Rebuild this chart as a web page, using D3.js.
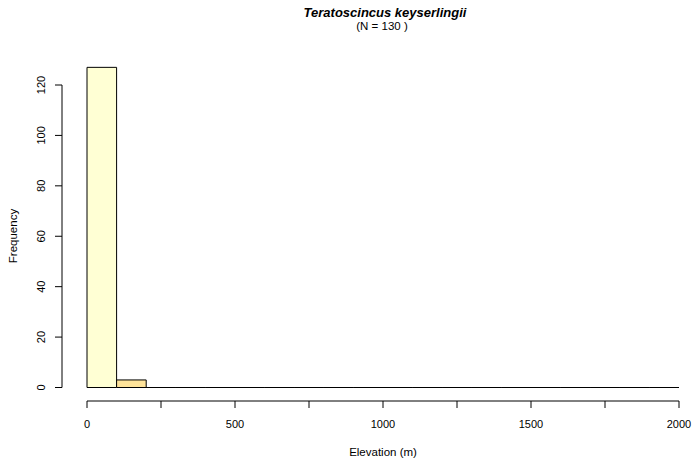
<!DOCTYPE html>
<html><head><meta charset="utf-8">
<script src="https://cdn.jsdelivr.net/npm/d3@7"></script>
<style>body{margin:0;background:#fff}svg{display:block}text{font-family:"Liberation Sans",Arial,sans-serif;fill:#000}</style>
</head><body>
<svg id="c" width="693" height="462"></svg>
<script>
const binStarts = [0,100,200,300,400,500,600,700,800,900,1000,1100,1200,1300,1400,1500,1600,1700,1800,1900];
const counts = [127,3,0,0,0,0,0,0,0,0,0,0,0,0,0,0,0,0,0,0];
const binColors = ["#FFFFD4","#FEE39A","#FEC44F","#FE9929","#EC7014","#CC4C02","#993404","#662506","#662506","#662506","#662506","#662506","#662506","#662506","#662506","#662506","#662506","#662506","#662506","#662506"];
const xTicks = [0,250,500,750,1000,1250,1500,1750,2000];
const xLabels = [0,500,1000,1500,2000];
const yTicks = [0,20,40,60,80,100,120];
const binWidth = 100;

const svg = d3.select("#c");
const x = d3.scaleLinear().domain([0,2000]).range([87,679]);
const y = d3.scaleLinear().domain([0,120]).range([387.5,85]);

svg.selectAll("path.bar").data(counts).enter().append("path")
  .attr("d",(d,i)=>{
    const x0=x(binStarts[i]), x1=x(binStarts[i]+binWidth), y0=y(0), y1=y(d);
    return `M${x0},${y0}L${x0},${y1}L${x1},${y1}L${x1},${y0}Z`;
  })
  .attr("fill",(d,i)=>binColors[i])
  .attr("stroke","#000").attr("stroke-width",1);

// x axis
const xa = svg.append("g");
xa.append("line").attr("x1",x(0)).attr("x2",x(2000)).attr("y1",401).attr("y2",401).attr("stroke","#000");
xa.selectAll("line.t").data(xTicks).enter().append("line")
  .attr("x1",d=>x(d)).attr("x2",d=>x(d)).attr("y1",401).attr("y2",408).attr("stroke","#000");
xa.selectAll("text").data(xLabels).enter().append("text")
  .attr("x",d=>x(d)).attr("y",428).attr("text-anchor","middle").attr("font-size",11).text(d=>d);

// y axis
const ya = svg.append("g");
ya.append("line").attr("x1",62).attr("x2",62).attr("y1",y(0)).attr("y2",y(120)).attr("stroke","#000");
ya.selectAll("line.t").data(yTicks).enter().append("line")
  .attr("x1",55).attr("x2",62).attr("y1",d=>y(d)).attr("y2",d=>y(d)).attr("stroke","#000");
ya.selectAll("text").data(yTicks).enter().append("text")
  .attr("transform",d=>`translate(45,${y(d)}) rotate(-90)`)
  .attr("text-anchor","middle").attr("font-size",11).text(d=>d);

svg.append("text").attr("transform","translate(17,236) rotate(-90)").attr("text-anchor","middle").attr("font-size",11.5).text("Frequency");
svg.append("text").attr("x",383).attr("y",456).attr("text-anchor","middle").attr("font-size",11.5).text("Elevation (m)");
svg.append("text").attr("x",385).attr("y",17).attr("text-anchor","middle").attr("font-size",13).attr("font-weight","bold").attr("font-style","italic").text("Teratoscincus keyserlingii");
svg.append("text").attr("x",382).attr("y",30).attr("text-anchor","middle").attr("font-size",11.5).text("(N = 130 )");
</script>
</body></html>
